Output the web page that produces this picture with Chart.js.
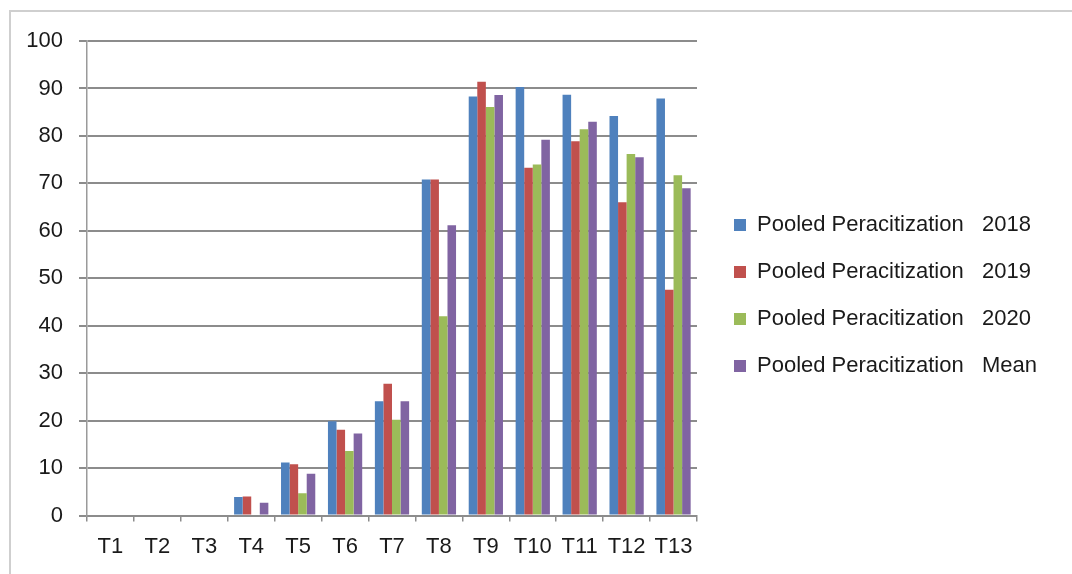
<!DOCTYPE html>
<html>
<head>
<meta charset="utf-8">
<script src="https://cdn.jsdelivr.net/npm/chart.js@4.4.1/dist/chart.umd.min.js"></script>
<style>
  html, body { margin: 0; padding: 0; background: #ffffff; }
  #wrap { width: 1072px; height: 574px; }
</style>
</head>
<body>
<div id="wrap"><canvas id="c" width="1072" height="574"></canvas></div>
<script>
// Treatments on the x axis
const categories = ['T1', 'T2', 'T3', 'T4', 'T5', 'T6', 'T7', 'T8', 'T9', 'T10', 'T11', 'T12', 'T13'];

// Pooled parasitization (%) per season
const pooled2018 = [0, 0, 0, 3.9, 11.2, 19.9, 24.1, 70.8, 88.3, 90.3, 88.7, 84.2, 87.9];
const pooled2019 = [0, 0, 0, 4.0, 10.8, 18.1, 27.8, 70.8, 91.4, 73.3, 78.9, 66.0, 47.6];
const pooled2020 = [0, 0, 0, 0, 4.7, 13.6, 20.2, 42.0, 86.1, 74.0, 81.4, 76.2, 71.7];
const pooledMean = [0, 0, 0, 2.7, 8.8, 17.3, 24.1, 61.2, 88.6, 79.2, 83.0, 75.5, 69.0];

const seriesLabels = [
  'Pooled Peracitization   2018',
  'Pooled Peracitization   2019',
  'Pooled Peracitization   2020',
  'Pooled Peracitization   Mean'
];
const seriesColors = ['#4F81BD', '#C0504D', '#9BBB59', '#8064A2'];

const yTicks = { min: 0, max: 100, step: 10 };

const FONT = 'Liberation Sans, Arial, sans-serif';
const GRID = '#8c8c8c';

// thin frame along the top and left edges of the figure
const framePlugin = {
  id: 'frame',
  beforeDraw(chart) {
    const ctx = chart.ctx;
    ctx.save();
    ctx.strokeStyle = '#cfcfcf';
    ctx.lineWidth = 2;
    ctx.beginPath();
    ctx.moveTo(10, chart.height);
    ctx.lineTo(10, 11);
    ctx.lineTo(chart.width, 11);
    ctx.stroke();
    ctx.restore();
  }
};

// fixed-width legend column on the right
const legendSlot = {
  id: 'legendSlot',
  afterInit(chart) {
    const lg = chart.legend;
    const fit = lg.fit.bind(lg);
    lg.fit = function () { fit(); this.width = 363; };
  }
};

const datasets = [pooled2018, pooled2019, pooled2020, pooledMean].map((vals, i) => ({
  label: seriesLabels[i],
  data: vals,
  backgroundColor: seriesColors[i],
  borderWidth: 0,
  categoryPercentage: 0.73,
  barPercentage: 1.0,
  yAxisID: 'y'
}));

new Chart(document.getElementById('c'), {
  type: 'bar',
  data: { labels: categories, datasets },
  plugins: [framePlugin, legendSlot],
  options: {
    responsive: false,
    animation: false,
    layout: { padding: { left: 0, right: 0, top: 41, bottom: 2 } },
    plugins: {
      tooltip: { enabled: false },
      legend: {
        position: 'right',
        align: 'start',
        // empty title used as a spacer above the legend entries
        title: { display: true, text: '', font: { size: 10 }, padding: { top: 136, bottom: 0 } },
        labels: {
          boxWidth: 12,
          boxHeight: 12,
          padding: 25,
          color: '#1a1a1a',
          font: { family: FONT, size: 22 }
        }
      }
    },
    scales: {
      x: {
        grid: {
          display: true,
          offset: true,
          drawOnChartArea: false,
          drawTicks: true,
          tickLength: 6,
          color: GRID,
          lineWidth: 1.5
        },
        border: { display: true, color: GRID, width: 2 },
        ticks: {
          color: '#1a1a1a',
          padding: 12,
          font: { family: FONT, size: 22 },
          maxRotation: 0,
          autoSkip: false
        }
      },
      y: {
        position: 'left',
        min: yTicks.min,
        max: yTicks.max,
        afterFit(scale) { scale.width = 87; },
        grid: {
          color: GRID,
          lineWidth: 2,
          tickLength: 8,
          drawTicks: true
        },
        border: { display: true, color: '#9a9a9a', width: 1.5 },
        ticks: {
          stepSize: yTicks.step,
          padding: 16,
          color: '#1a1a1a',
          font: { family: FONT, size: 22 }
        }
      },
      gap: {
        position: 'right',
        display: true,
        afterFit(scale) { scale.width = 12; },
        grid: { display: false },
        border: { display: false },
        ticks: { display: false }
      }
    }
  }
});
</script>
</body>
</html>
